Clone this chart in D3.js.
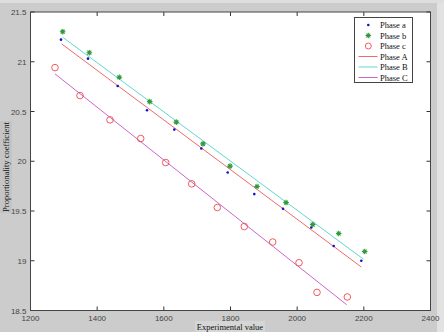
<!DOCTYPE html>
<html>
<head>
<meta charset="utf-8">
<script src="https://cdn.jsdelivr.net/npm/d3@7"></script>
<style>
  body { margin: 0; background: #cccccc; }
  svg { display: block; }
  .tick-label { font-family: "Liberation Sans", Arial, sans-serif; font-size: 8px; fill: #444; }
  .serif { font-family: "Liberation Serif", "Times New Roman", serif; fill: #111; }
</style>
</head>
<body>
<svg id="chart" width="444" height="332"></svg>
<script>
"use strict";
const phaseA_x = [1291.5, 1372.5, 1461.6, 1549.5, 1631.4, 1712.4, 1791.6, 1871.4, 1957.5, 2042.4, 2109.6, 2192.4];
const phaseA_y = [21.222, 21.031, 20.757, 20.513, 20.318, 20.128, 19.887, 19.670, 19.522, 19.334, 19.148, 19.000];
const phaseB_x = [1296.6, 1376.4, 1466.4, 1557.6, 1637.4, 1717.5, 1798.5, 1879.5, 1966.5, 2046.6, 2124.6, 2202.6];
const phaseB_y = [21.302, 21.091, 20.844, 20.599, 20.393, 20.175, 19.951, 19.746, 19.585, 19.364, 19.274, 19.093];
const phaseC_x = [1273.5, 1348.5, 1438.5, 1530.6, 1605.6, 1683.6, 1760.4, 1841.4, 1926.6, 2005.5, 2059.5, 2150.4];
const phaseC_y = [20.941, 20.660, 20.416, 20.228, 19.987, 19.773, 19.535, 19.344, 19.188, 18.980, 18.682, 18.636];

// fitted lines (end points)
const fitA = [[1293.6, 21.179], [2192.4, 18.937]];
const fitB = [[1296.6, 21.246], [2198.4, 19.017]];
const fitC = [[1273.5, 20.878], [2148.6, 18.558]];

const xTicks = [1200, 1400, 1600, 1800, 2000, 2200, 2400];
const yTicks = [18.5, 19, 19.5, 20, 20.5, 21, 21.5];
const legendNames = ["Phase a", "Phase b", "Phase c", "Phase A", "Phase B", "Phase C"];

const COLORS = {
  a: "#1010d0",
  b: "#2f9a3a",
  c: "#f04848",
  A: "#f06a6a",
  B: "#62d8cc",
  C: "#cc66cc"
};

const svg = d3.select("#chart");
const box = { left: 30.5, right: 430.5, top: 12, bottom: 310.5 };

const x = d3.scaleLinear().domain([1200, 2400]).range([box.left, box.right]);
const y = d3.scaleLinear().domain([18.5, 21.5]).range([box.bottom, box.top]);

// window frame bits
svg.append("rect").attr("x", 0).attr("y", 0).attr("width", 444).attr("height", 332).style("fill", "#cccccc");
svg.append("rect").attr("x", 437).attr("y", 0).attr("width", 7).attr("height", 332).style("fill", "#e2e2e2");
svg.append("rect").attr("x", 0).attr("y", 0).attr("width", 444).attr("height", 3).style("fill", "#dedede");

// axes area
svg.append("rect")
  .attr("x", box.left).attr("y", box.top)
  .attr("width", box.right - box.left).attr("height", box.bottom - box.top)
  .style("fill", "#ffffff");

const plot = svg.append("g");

// ticks (inward, all four sides)
const tickLen = 4;
xTicks.forEach(t => {
  plot.append("line").attr("x1", x(t)).attr("x2", x(t)).attr("y1", box.bottom).attr("y2", box.bottom - tickLen)
    .style("stroke", "#333").style("stroke-width", 1);
  plot.append("line").attr("x1", x(t)).attr("x2", x(t)).attr("y1", box.top).attr("y2", box.top + tickLen)
    .style("stroke", "#333").style("stroke-width", 1);
  svg.append("text").attr("class", "tick-label")
    .attr("x", x(t)).attr("y", box.bottom + 10)
    .attr("text-anchor", "middle")
    .text(t);
});
yTicks.forEach(t => {
  plot.append("line").attr("x1", box.left).attr("x2", box.left + tickLen).attr("y1", y(t)).attr("y2", y(t))
    .style("stroke", "#333").style("stroke-width", 1);
  plot.append("line").attr("x1", box.right).attr("x2", box.right - tickLen).attr("y1", y(t)).attr("y2", y(t))
    .style("stroke", "#333").style("stroke-width", 1);
  svg.append("text").attr("class", "tick-label")
    .attr("x", box.left - 4).attr("y", y(t) + 3)
    .attr("text-anchor", "end")
    .text(t);
});

// fitted lines
const line = d3.line().x(d => x(d[0])).y(d => y(d[1]));
[[fitA, COLORS.A], [fitB, COLORS.B], [fitC, COLORS.C]].forEach(([pts, col]) => {
  plot.append("path").attr("d", line(pts))
    .style("fill", "none").style("stroke", col).style("stroke-width", 1);
});

// markers
function star(g, cx, cy, r, col) {
  const d = `M${cx - r},${cy}L${cx + r},${cy}M${cx},${cy - r}L${cx},${cy + r}` +
            `M${cx - r * 0.7},${cy - r * 0.7}L${cx + r * 0.7},${cy + r * 0.7}` +
            `M${cx - r * 0.7},${cy + r * 0.7}L${cx + r * 0.7},${cy - r * 0.7}`;
  g.append("path").attr("d", d).style("stroke", col).style("stroke-width", 1.1).style("fill", "none");
}

const dots = plot.append("g");
phaseA_x.forEach((v, i) => {
  dots.append("circle").attr("cx", x(v)).attr("cy", y(phaseA_y[i])).attr("r", 1.3).style("fill", COLORS.a);
});
phaseB_x.forEach((v, i) => star(dots, x(v), y(phaseB_y[i]), 2.8, COLORS.b));
phaseC_x.forEach((v, i) => {
  dots.append("circle").attr("cx", x(v)).attr("cy", y(phaseC_y[i])).attr("r", 3.3)
    .style("fill", "none").style("stroke", COLORS.c).style("stroke-width", 0.9);
});

// axes border
svg.append("rect")
  .attr("x", box.left).attr("y", box.top)
  .attr("width", box.right - box.left).attr("height", box.bottom - box.top)
  .style("fill", "none").style("stroke", "#444").style("stroke-width", 1);

// axis labels
svg.append("rect").attr("x", 195).attr("y", 321).attr("width", 70).attr("height", 11).style("fill", "#d6d6d6");
svg.append("text").attr("class", "serif")
  .attr("x", 230).attr("y", 330).attr("text-anchor", "middle").style("font-size", "8.5px")
  .text("Experimental value");

svg.append("rect").attr("x", 0).attr("y", 121).attr("width", 12).attr("height", 92).style("fill", "#c4c4c4");
svg.append("text").attr("class", "serif")
  .attr("transform", `translate(9,167) rotate(-90)`)
  .attr("text-anchor", "middle").style("font-size", "8.5px")
  .text("Proportionality coefficient");

// legend
const legend = svg.append("g");
const lg = { x: 354.5, y: 17.5, w: 58, h: 65 };
legend.append("rect")
  .attr("x", lg.x).attr("y", lg.y).attr("width", lg.w).attr("height", lg.h)
  .style("fill", "#fff").style("stroke", "#444").style("stroke-width", 1);

const rowY = d3.scaleLinear().domain([0, 5]).range([lg.y + 7.5, lg.y + 60]);
legendNames.forEach((name, i) => {
  const ry = rowY(i);
  const mx = 368.3;
  if (i === 0) legend.append("circle").attr("cx", mx).attr("cy", ry).attr("r", 1.3).style("fill", COLORS.a);
  if (i === 1) star(legend, mx, ry, 2.8, COLORS.b);
  if (i === 2) legend.append("circle").attr("cx", mx).attr("cy", ry).attr("r", 3)
    .style("fill", "none").style("stroke", COLORS.c).style("stroke-width", 0.9);
  if (i >= 3) {
    const col = [COLORS.A, COLORS.B, COLORS.C][i - 3];
    legend.append("line").attr("x1", 358.5).attr("x2", 377.5).attr("y1", ry).attr("y2", ry)
      .style("stroke", col).style("stroke-width", 1);
  }
  legend.append("text").attr("class", "serif")
    .attr("x", 380).attr("y", ry + 3).style("font-size", "8.5px")
    .text(name);
});
</script>
</body>
</html>
